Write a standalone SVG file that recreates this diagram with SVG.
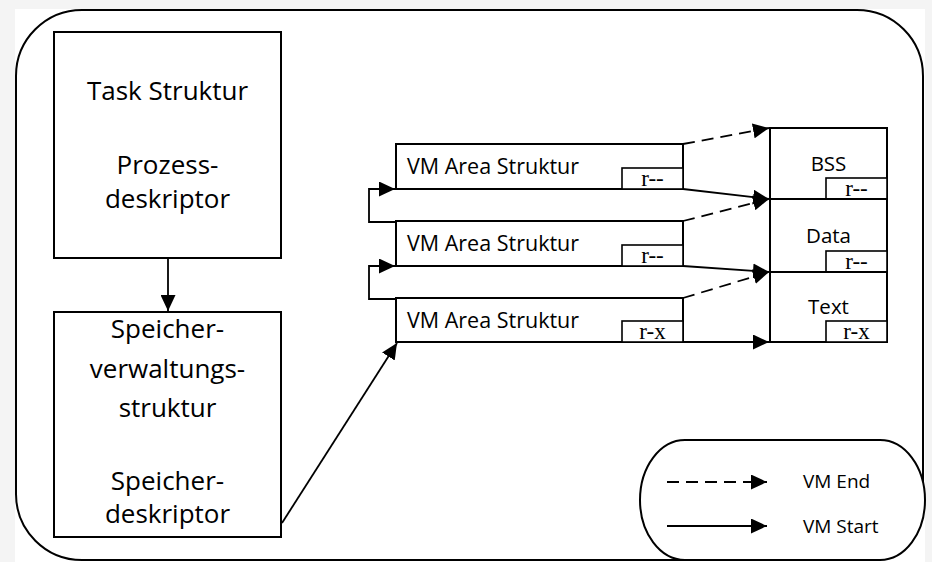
<svg xmlns="http://www.w3.org/2000/svg" width="932" height="562" viewBox="0 0 932 562">
  <style>
    .box { fill: #ffffff; stroke: #000000; stroke-width: 2; }
    .tag { fill: #ffffff; stroke: #000000; stroke-width: 1.6; }
    .lbl { font-family: "Open Sans", "Noto Sans", sans-serif; fill: #000000; }
    .big { font-size: 26px; text-anchor: middle; }
    .vm { font-size: 21.5px; }
    .seg { font-size: 20.5px; text-anchor: middle; }
    .leg { font-size: 19px; }
    .perm { font-family: "Liberation Serif", serif; font-size: 23px; text-anchor: middle; fill: #000000; }
    .link { fill: none; stroke: #000000; stroke-width: 1.8; }
    .dash { stroke-dasharray: 12 7; }
  </style>
  <defs>
    <marker id="ah" markerWidth="16" markerHeight="15" refX="16" refY="7.5" orient="auto" markerUnits="userSpaceOnUse">
      <path d="M0,0 L16,7.5 L0,15 z" fill="#000000"/>
    </marker>
  </defs>

  <!-- page -->
  <rect x="0" y="0" width="932" height="562" fill="#f4f4f4"/>
  <rect x="15" y="9" width="910" height="553" fill="#ffffff"/>

  <!-- address space frame -->
  <rect id="frame" x="16" y="10" width="907" height="550" rx="66" ry="66" fill="none" stroke="#000000" stroke-width="2"/>

  <g id="task">
    <rect class="box" x="54" y="32" width="227" height="226"/>
    <text class="lbl big" x="167.5" y="100">Task Struktur</text>
    <text class="lbl big" x="167.5" y="174">Prozess-</text>
    <text class="lbl big" x="167.5" y="208">deskriptor</text>
  </g>

  <g id="mm">
    <rect class="box" x="54" y="312" width="227" height="225"/>
    <text class="lbl big" x="167.5" y="338">Speicher-</text>
    <text class="lbl big" x="167.5" y="378">verwaltungs-</text>
    <text class="lbl big" x="167.5" y="417">struktur</text>
    <text class="lbl big" x="167.5" y="490">Speicher-</text>
    <text class="lbl big" x="167.5" y="523">deskriptor</text>
  </g>

  <g id="vma1">
    <rect class="box" x="396" y="144" width="287" height="45"/>
    <rect class="tag" x="622" y="168" width="61" height="21"/>
    <text class="lbl vm" x="407" y="174">VM Area Struktur</text>
    <text class="perm" x="652.5" y="186">r--</text>
  </g>
  <g id="vma2">
    <rect class="box" x="396" y="221" width="287" height="45"/>
    <rect class="tag" x="622" y="245" width="61" height="21"/>
    <text class="lbl vm" x="407" y="251">VM Area Struktur</text>
    <text class="perm" x="652.5" y="263">r--</text>
  </g>
  <g id="vma3">
    <rect class="box" x="396" y="298" width="287" height="44"/>
    <rect class="tag" x="622" y="321" width="61" height="21"/>
    <text class="lbl vm" x="407" y="328">VM Area Struktur</text>
    <text class="perm" x="652.5" y="339">r-x</text>
  </g>

  <g id="bss">
    <rect class="box" x="770" y="128" width="117" height="71"/>
    <rect class="tag" x="826" y="178" width="61" height="21"/>
    <text class="lbl seg" x="828.5" y="171">BSS</text>
    <text class="perm" x="856.5" y="196">r--</text>
  </g>
  <g id="data">
    <rect class="box" x="770" y="199" width="117" height="73"/>
    <rect class="tag" x="826" y="251" width="61" height="21"/>
    <text class="lbl seg" x="828.5" y="243">Data</text>
    <text class="perm" x="856.5" y="269">r--</text>
  </g>
  <g id="text">
    <rect class="box" x="770" y="272" width="117" height="70"/>
    <rect class="tag" x="826" y="321" width="61" height="21"/>
    <text class="lbl seg" x="828.5" y="314">Text</text>
    <text class="perm" x="856.5" y="339">r-x</text>
  </g>

  <g id="connectors">
    <line class="link" x1="168" y1="258" x2="168" y2="311" marker-end="url(#ah)"/>
    <line class="link" x1="282" y1="523" x2="397" y2="343" marker-end="url(#ah)"/>
    <polyline class="link" points="396,222 369,222 369,189 395,189" marker-end="url(#ah)"/>
    <polyline class="link" points="396,299 369,299 369,266 395,266" marker-end="url(#ah)"/>
    <line class="link dash" x1="683" y1="144" x2="769" y2="128" marker-end="url(#ah)"/>
    <line class="link" x1="683" y1="189" x2="769" y2="199" marker-end="url(#ah)"/>
    <line class="link dash" x1="683" y1="221" x2="769" y2="199" marker-end="url(#ah)"/>
    <line class="link" x1="683" y1="266" x2="769" y2="272" marker-end="url(#ah)"/>
    <line class="link dash" x1="683" y1="298" x2="769" y2="272" marker-end="url(#ah)"/>
    <line class="link" x1="683" y1="342" x2="769" y2="342" marker-end="url(#ah)"/>
  </g>

  <g id="legend">
    <rect x="640" y="440" width="285" height="120" rx="45" ry="60" fill="#ffffff" stroke="#000000" stroke-width="2"/>
    <line class="link dash" x1="667" y1="482" x2="767" y2="482" marker-end="url(#ah)"/>
    <line class="link" x1="667" y1="526" x2="767" y2="526" marker-end="url(#ah)"/>
    <text class="lbl leg" x="803" y="488">VM End</text>
    <text class="lbl leg" x="803" y="533">VM Start</text>
  </g>
</svg>
